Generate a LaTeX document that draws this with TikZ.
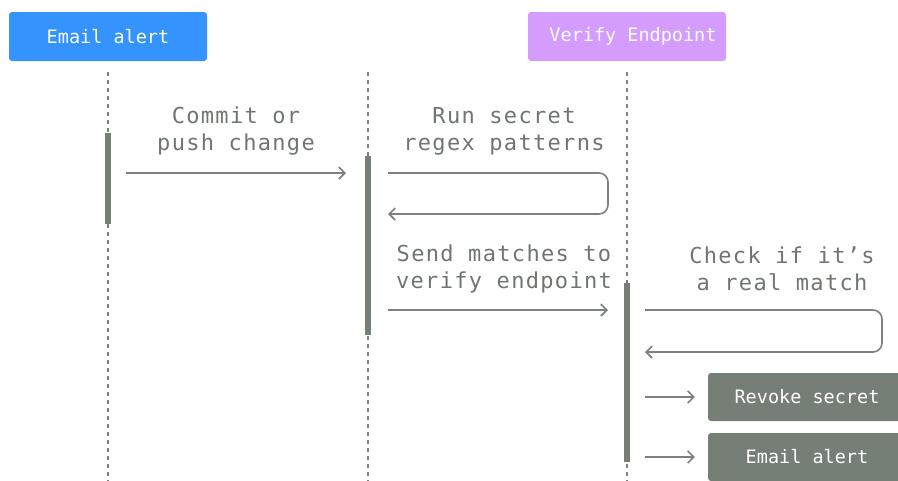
\documentclass[tikz,border=0pt]{standalone}
\usepackage{fontspec}
\setmonofont{DejaVu Sans Mono}
\newfontfamily\msgfont[LetterSpace=6]{DejaVu Sans Mono}
\usetikzlibrary{arrows.meta}

\definecolor{hdrblue}{HTML}{3593FE}
\definecolor{hdrpurple}{HTML}{D49CFC}
\definecolor{actgray}{HTML}{767F76}
\definecolor{linegray}{HTML}{7B827C}
\definecolor{dotgray}{HTML}{7E807E}
\definecolor{txtgray}{HTML}{6F766F}

\tikzset{
  hdr/.style={rectangle, rounded corners=3pt, minimum width=198pt, minimum height=49pt,
    inner sep=0pt, text=white, font=\ttfamily\fontsize{18.5}{20}\selectfont},
  lifeline/.style={dotgray, line width=2.2pt, dash pattern=on 3.5pt off 4.5pt},
  actbar/.style={rectangle, fill=actgray, minimum width=6pt, inner sep=0pt, draw=none},
  msg/.style={linegray, line width=1.6pt, -{Straight Barb[length=6pt,width=12pt,line width=1.6pt]}},
  msglabel/.style={text=txtgray, align=center, inner sep=0pt,
    font=\msgfont\fontsize{22}{27}\selectfont},
  action/.style={rectangle, rounded corners=3pt, fill=actgray, minimum width=198pt,
    minimum height=48pt, inner sep=0pt, text=white, font=\ttfamily\fontsize{18.5}{20}\selectfont}
}

\begin{document}
\begin{tikzpicture}[x=1pt, y=-1pt]
  \useasboundingbox (0,0) rectangle (898,480);
  \clip (0,0) rectangle (898,480);

  % participants
  \node[hdr, fill=hdrblue] (dev) at (108,36.5) {Email alert};
  \node[hdr, fill=hdrpurple] (verify) at (627,36.5) {\hspace{12pt}Verify Endpoint};

  % lifelines
  \coordinate (l1t) at (108,72);  \coordinate (l1b) at (108,482);
  \coordinate (l2t) at (368,72);  \coordinate (l2b) at (368,482);
  \coordinate (l3t) at (627,72);  \coordinate (l3b) at (627,482);
  \draw[lifeline] (l1t) -- (l1b);
  \draw[lifeline] (l2t) -- (l2b);
  \draw[lifeline] (l3t) -- (l3b);

  % activation bars
  \node[actbar, minimum height=91pt]  (act1) at (108,178.5) {};
  \node[actbar, minimum height=179pt] (act2) at (368,245.5) {};
  \node[actbar, minimum height=179pt] (act3) at (627,372.5) {};

  % commit or push
  \coordinate (m1s) at (126,173); \coordinate (m1e) at (346,173);
  \draw[msg] (m1s) -- (m1e);
  \node[msglabel] (lab1) at (236,131.5) {Commit or\\push change};

  % regex self-call
  \coordinate (m2s) at (388,173); \coordinate (m2c1) at (608,173);
  \coordinate (m2c2) at (608,214); \coordinate (m2e) at (388,214);
  \draw[msg, rounded corners=9pt] (m2s) -- (m2c1) -- (m2c2) -- (m2e);
  \node[msglabel] (lab2) at (504,131.5) {Run secret\\regex patterns};

  % send to verify endpoint
  \coordinate (m3s) at (388,310); \coordinate (m3e) at (608,310);
  \draw[msg] (m3s) -- (m3e);
  \node[msglabel] (lab3) at (504,268.5) {Send matches to\\verify endpoint};

  % real match self-call
  \coordinate (m4s) at (645,310); \coordinate (m4c1) at (882,310);
  \coordinate (m4c2) at (882,352); \coordinate (m4e) at (645,352);
  \draw[msg, rounded corners=9pt] (m4s) -- (m4c1) -- (m4c2) -- (m4e);
  \node[msglabel] (lab4) at (782,268.5) {Check if it’s\\a real match};

  % outcomes
  \node[action] (revoke) at (807,397) {Revoke secret};
  \node[action] (alert)  at (807,457) {Email alert};
  \draw[msg] ([xshift=15pt]act3.east |- revoke.west) -- ([xshift=-13pt]revoke.west);
  \draw[msg] ([xshift=15pt]act3.east |- alert.west) -- ([xshift=-13pt]alert.west);
\end{tikzpicture}
\end{document}
